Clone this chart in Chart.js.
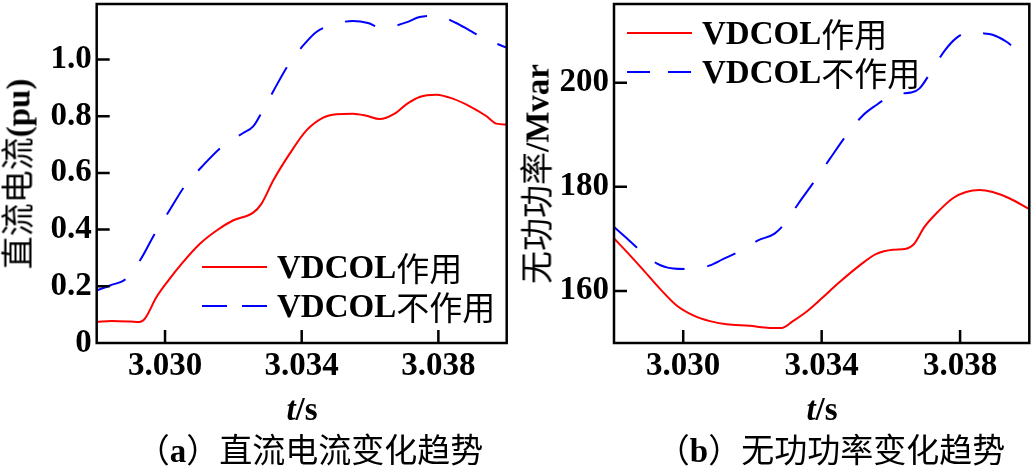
<!DOCTYPE html>
<html>
<head>
<meta charset="utf-8">
<script src="https://cdn.jsdelivr.net/npm/chart.js@4.4.0/dist/chart.umd.min.js"></script>
<style>
  body { margin: 0; background: #fff; }
  #page { position: relative; width: 1031px; height: 467px; overflow: hidden; background: #fff; }
  .panel { position: absolute; top: 0; height: 467px; }
  .lat { font-family: "Liberation Serif", serif; font-weight: bold; }
  .cjk { font-family: "Noto Sans CJK SC", sans-serif; font-weight: normal; }
  .txt { position: absolute; font-size: 33px; line-height: 36px; white-space: nowrap; color: #000; }
  .ytitle { transform: translate(-50%, -50%) rotate(-90deg); }
  .center { transform: translate(-50%, -50%); }
  .leg { position: absolute; height: 36px; display: flex; align-items: center; white-space: nowrap; font-size: 33px; }
  .sample { width: 65px; height: 2px; margin-right: 10px; }
</style>
</head>
<body>
<div id="page">
  <div class="panel" style="left:0;width:515px"><canvas id="dcChart"></canvas></div>
  <div class="panel" style="left:515px;width:516px"><canvas id="qChart"></canvas></div>

  <div class="txt ytitle" style="left:17px;top:174px"><span class="cjk">直流电流</span><span class="lat">(pu)</span></div>
  <div class="txt ytitle" style="left:536px;top:174px"><span class="cjk">无功功率</span><span class="lat">/Mvar</span></div>

  <div class="txt center lat" style="left:302px;top:409px"><i>t</i>/s</div>
  <div class="txt center lat" style="left:822px;top:409px"><i>t</i>/s</div>

  <div class="txt center" style="left:310px;top:449px"><span class="cjk">（</span><span class="lat">a</span><span class="cjk">）直流电流变化趋势</span></div>
  <div class="txt center" style="left:831px;top:449px"><span class="cjk">（</span><span class="lat">b</span><span class="cjk">）无功功率变化趋势</span></div>

  <div class="leg" style="left:202px;top:249px"><div class="sample" style="background:#ff0000"></div><span class="lat">VDCOL</span><span class="cjk">作用</span></div>
  <div class="leg" style="left:202px;top:288px"><div class="sample" style="background:repeating-linear-gradient(to right,#0000ff 0 25px,transparent 25px 40px)"></div><span class="lat">VDCOL</span><span class="cjk">不作用</span></div>

  <div class="leg" style="left:627px;top:15px"><div class="sample" style="background:#ff0000"></div><span class="lat">VDCOL</span><span class="cjk">作用</span></div>
  <div class="leg" style="left:627px;top:54px"><div class="sample" style="background:repeating-linear-gradient(to right,#0000ff 0 23px,transparent 23px 41px)"></div><span class="lat">VDCOL</span><span class="cjk">不作用</span></div>
</div>

<script>
// (a) DC current, pu
const dcTimeOn = [3.0280, 3.02844, 3.02897, 3.02925, 3.02941, 3.02975, 3.0301, 3.03049, 3.03102, 3.03151,
  3.0320, 3.03258, 3.03282, 3.03317, 3.03365, 3.03414, 3.03463, 3.03502, 3.0355, 3.03589,
  3.03628, 3.03672, 3.03706, 3.03745, 3.03794, 3.03842, 3.03892, 3.0394, 3.0397, 3.0400];
const dcOn = [0.074, 0.078, 0.076, 0.074, 0.086, 0.162, 0.221, 0.280, 0.350, 0.397,
  0.433, 0.460, 0.491, 0.574, 0.668, 0.750, 0.795, 0.807, 0.809, 0.802,
  0.790, 0.809, 0.842, 0.868, 0.876, 0.862, 0.835, 0.801, 0.774, 0.771];
const dcTimeOff = [3.0280, 3.02839, 3.02886, 3.02927, 3.02971, 3.0301, 3.03058, 3.03107, 3.03165, 3.03229,
  3.03258, 3.03285, 3.03318, 3.03365, 3.03409, 3.03443, 3.0348, 3.0355, 3.03594, 3.03633,
  3.0367, 3.03706, 3.03745, 3.03794, 3.03852, 3.03891, 3.03935, 3.0400];
const dcOff = [0.186, 0.203, 0.227, 0.292, 0.388, 0.462, 0.554, 0.621, 0.691, 0.741,
  0.764, 0.818, 0.891, 0.989, 1.056, 1.097, 1.119, 1.136, 1.129, 1.111,
  1.118, 1.131, 1.150, 1.155, 1.129, 1.103, 1.074, 1.042];

// (b) reactive power, Mvar
const qTimeOn = [3.0280, 3.02837, 3.02885, 3.02933, 3.02981, 3.03029, 3.03077, 3.03125, 3.03192, 3.0325,
  3.03284, 3.03317, 3.03356, 3.03394, 3.03452, 3.0351, 3.03558, 3.03606, 3.03644, 3.03668,
  3.03697, 3.03736, 3.03779, 3.03817, 3.03856, 3.03894, 3.03942, 3.0400];
const qOn = [170.1, 167.5, 164.0, 160.4, 157.2, 155.3, 154.2, 153.6, 153.3, 152.9,
  152.9, 154.2, 156.0, 158.2, 161.7, 164.9, 167.1, 167.9, 168.1, 169.1,
  172.3, 175.2, 177.8, 179.0, 179.4, 179.0, 177.8, 175.7];
const qTimeOff = [3.0280, 3.02837, 3.0287, 3.02923, 3.02971, 3.03012, 3.03043, 3.03077, 3.03115, 3.03159,
  3.03216, 3.03264, 3.03293, 3.03332, 3.03385, 3.03423, 3.03476, 3.03519, 3.03558, 3.03591,
  3.03625, 3.03659, 3.03683, 3.03716, 3.03755, 3.03788, 3.03827, 3.0386, 3.03894, 3.03933,
  3.03969, 3.0400];
const qOff = [172.3, 170.1, 168.1, 165.3, 164.3, 164.2, 164.3, 164.9, 166.1, 167.5,
  169.7, 171.0, 172.9, 176.7, 181.6, 185.3, 190.3, 193.7, 195.7, 197.1,
  197.9, 198.1, 198.9, 202.1, 206.1, 208.5, 209.7, 209.5, 209.2, 207.9,
  206.0, 204.8];

const timeTicks = [3.030, 3.034, 3.038];
const dcTicks = [0, 0.2, 0.4, 0.6, 0.8, 1.0];
const qTicks = [160, 180, 200];

function toPoints(xs, ys) {
  return xs.map((x, i) => ({ x: x, y: ys[i] }));
}

// box round the plot and short ticks pointing inwards
const frameTicks = {
  id: "frameTicks",
  afterDraw(chart) {
    const { ctx, chartArea: a, scales } = chart;
    const len = 13;
    ctx.save();
    ctx.strokeStyle = "#000";
    ctx.lineWidth = 2.5;
    ctx.strokeRect(a.left, a.top, a.right - a.left, a.bottom - a.top);
    ctx.beginPath();
    scales.x.ticks.forEach((t) => {
      const px = scales.x.getPixelForValue(t.value);
      ctx.moveTo(px, a.bottom);
      ctx.lineTo(px, a.bottom - len);
    });
    scales.y.ticks.forEach((t) => {
      if (t.value <= scales.y.min) return;
      const py = scales.y.getPixelForValue(t.value);
      ctx.moveTo(a.left, py);
      ctx.lineTo(a.left + len, py);
    });
    ctx.stroke();
    ctx.restore();
  },
};

const tickFont = { family: '"Liberation Serif", serif', size: 33, weight: "bold" };

function makeChart(id, sets, yMin, yMax, yTicks, yFmt, yWidth, padRight) {
  const ctx = document.getElementById(id).getContext("2d");
  return new Chart(ctx, {
    type: "scatter",
    data: {
      datasets: sets.map((s) => ({
        label: s.label,
        data: s.data,
        showLine: true,
        borderColor: s.color,
        borderWidth: 2,
        borderDash: s.dash,
        pointRadius: 0,
        cubicInterpolationMode: "monotone",
      })),
    },
    options: {
      responsive: true,
      maintainAspectRatio: false,
      animation: false,
      layout: { padding: { left: 0, top: 4, right: padRight, bottom: 0 } },
      plugins: { legend: { display: false }, tooltip: { enabled: false } },
      scales: {
        x: {
          type: "linear",
          min: 3.028,
          max: 3.040,
          afterBuildTicks: (s) => { s.ticks = timeTicks.map((v) => ({ value: v })); },
          afterFit: (s) => { s.height = 124; s.paddingLeft = 0; s.paddingRight = 0; },
          ticks: { font: tickFont, color: "#000", padding: 4, maxRotation: 0,
            callback: (v) => v.toFixed(3) },
          grid: { display: false, drawTicks: false },
          border: { display: false },
        },
        y: {
          min: yMin,
          max: yMax,
          afterBuildTicks: (s) => { s.ticks = yTicks.map((v) => ({ value: v })); },
          afterFit: (s) => { s.width = yWidth; s.paddingTop = 0; s.paddingBottom = 0; },
          ticks: { font: tickFont, color: "#000", padding: 5, callback: yFmt },
          grid: { display: false, drawTicks: false },
          border: { display: false },
        },
      },
    },
    plugins: [frameTicks],
  });
}

makeChart("dcChart", [
  { label: "VDCOL作用", data: toPoints(dcTimeOn, dcOn), color: "#ff0000", dash: [] },
  { label: "VDCOL不作用", data: toPoints(dcTimeOff, dcOff), color: "#0000ff", dash: [31, 23] },
], 0, 1.196, dcTicks, (v) => (v === 0 ? "0" : v.toFixed(1)), 96.7, 8.3);

makeChart("qChart", [
  { label: "VDCOL作用", data: toPoints(qTimeOn, qOn), color: "#ff0000", dash: [] },
  { label: "VDCOL不作用", data: toPoints(qTimeOff, qOff), color: "#0000ff", dash: [31, 23] },
], 150, 215.1, qTicks, (v) => String(v), 99, 1.7);
</script>
</body>
</html>
